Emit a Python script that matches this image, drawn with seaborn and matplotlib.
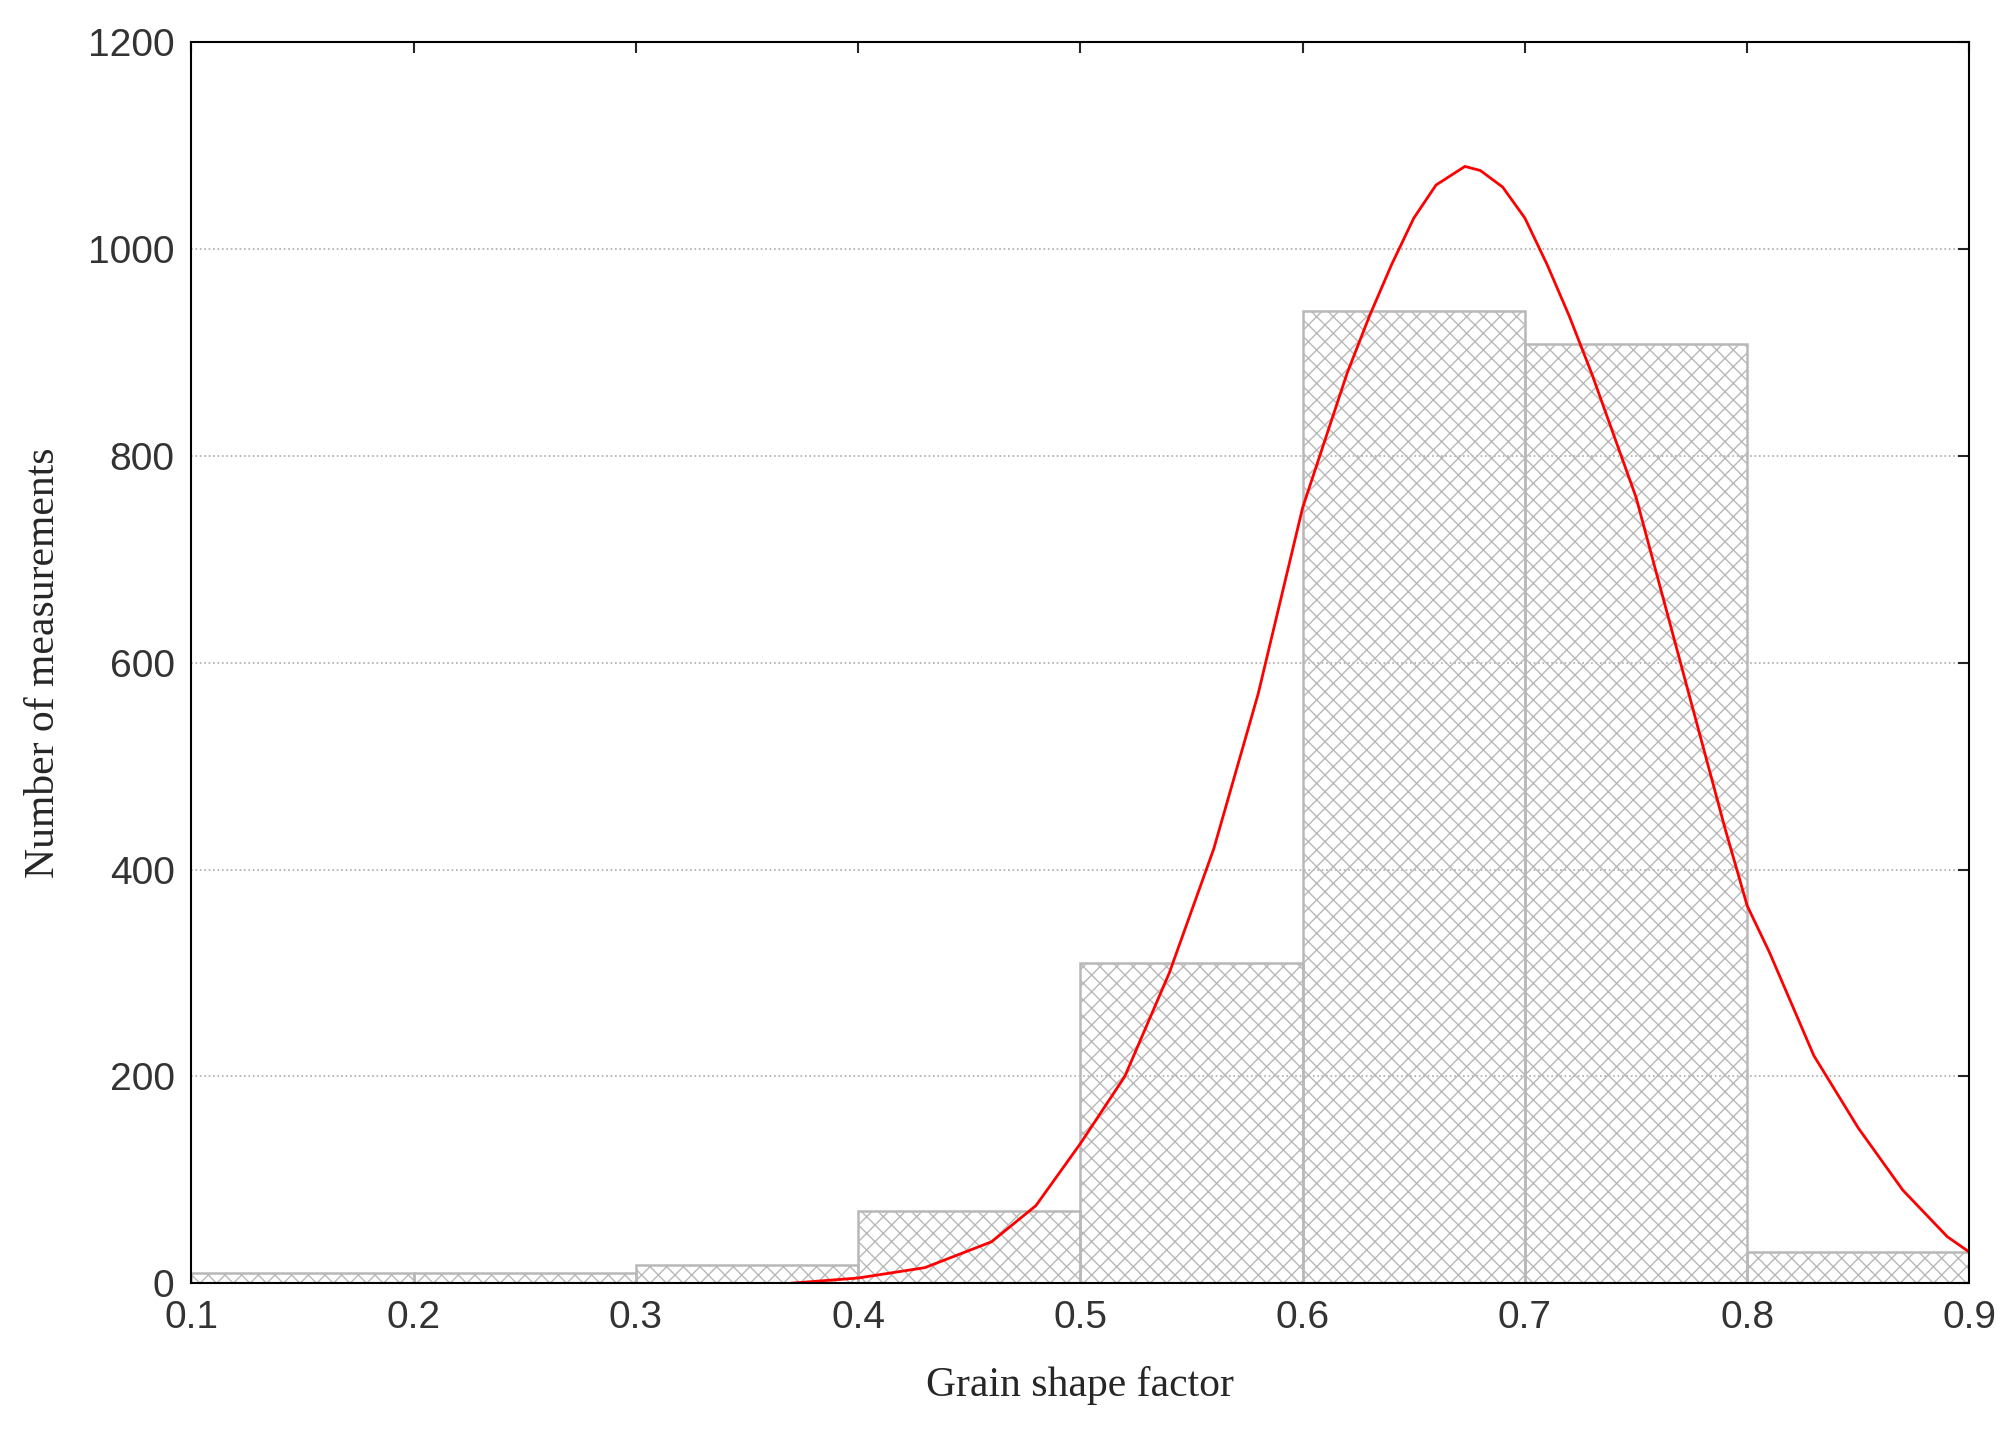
import matplotlib
matplotlib.use("Agg")
import matplotlib.pyplot as plt
import seaborn as sns

bin_edges = [0.1, 0.2, 0.3, 0.4, 0.5, 0.6, 0.7, 0.8, 0.9]
bin_counts = [10, 10, 18, 70, 310, 940, 908, 30]
curve_x = [0.37, 0.40, 0.43, 0.46, 0.48, 0.50, 0.52, 0.54, 0.56, 0.58, 0.60, 0.62, 0.63, 0.64, 0.65, 0.66, 0.673,
           0.68, 0.69, 0.70, 0.71, 0.72, 0.73, 0.75, 0.77, 0.79, 0.80, 0.81, 0.83, 0.85, 0.87, 0.89, 0.90]
curve_y = [0, 5, 15, 40, 75, 135, 200, 300, 420, 570, 750, 880, 935, 985, 1030, 1062, 1080,
           1076, 1060, 1030, 985, 935, 880, 760, 600, 440, 365, 320, 220, 150, 90, 45, 30]
x_ticks = [0.1, 0.2, 0.3, 0.4, 0.5, 0.6, 0.7, 0.8, 0.9]
y_ticks = [0, 200, 400, 600, 800, 1000, 1200]

sns.set_theme(style="white")
plt.rcParams['hatch.linewidth'] = 1.0
fig = plt.figure(figsize=(20.16, 14.5), dpi=100)
ax = fig.add_axes([148/1560, 1 - 1000/1130, (1524-148)/1560, (1000-33)/1130])

centers = [(a + b) / 2 for a, b in zip(bin_edges[:-1], bin_edges[1:])]
sns.histplot(x=centers, weights=bin_counts, bins=bin_edges, ax=ax, fill=False,
             color='#b8b8b8', linewidth=1.8, hatch='xx')
for p in ax.patches:
    p.set_edgecolor('#b8b8b8')
sns.lineplot(x=curve_x, y=curve_y, ax=ax, color='red', linewidth=2)

ax.set_xlim(0.1, 0.9)
ax.set_ylim(0, 1200)
ax.set_xticks(x_ticks)
ax.set_xticklabels([f"{v:.1f}" for v in x_ticks])
ax.set_yticks(y_ticks)
ax.yaxis.grid(True, linestyle=':', color='#aaaaaa', linewidth=1.2)
ax.set_axisbelow(True)
for s in ax.spines.values():
    s.set_color('black'); s.set_linewidth(1.5)
ax.tick_params(direction='in', length=8, width=1.5, top=True, right=True, labelsize=28, pad=12,
               labelcolor='#333333')
for lab in ax.get_xticklabels() + ax.get_yticklabels():
    lab.set_family('Liberation Sans')
ax.set_xlabel("Grain shape factor", family='Liberation Serif', fontsize=30, labelpad=22)
ax.set_ylabel("Number of measurements", family='Liberation Serif', fontsize=30, labelpad=18)
fig.savefig("out.png", dpi=100)
